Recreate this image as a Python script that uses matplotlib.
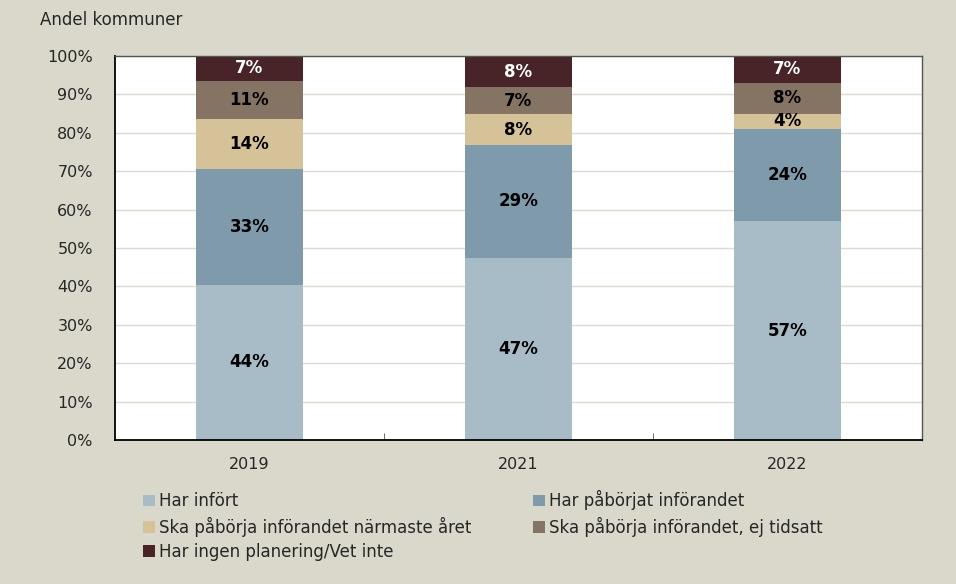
"""
plot.py - Staplat 100%-diagram: andel kommuner per ar.
Output: out.png
"""

import numpy as np
import matplotlib.pyplot as plt
from matplotlib.ticker import FixedLocator, PercentFormatter

plt.rcParams["font.family"] = ["DejaVu Sans"]
plt.rcParams["text.color"] = "#262626"
plt.rcParams["xtick.labelcolor"] = "#262626"
plt.rcParams["ytick.labelcolor"] = "#262626"

years = ["2019", "2021", "2022"]
series_names = [
    "Har infört",
    "Har påbörjat införandet",
    "Ska påbörja införandet närmaste året",
    "Ska påbörja införandet, ej tidsatt",
    "Har ingen planering/Vet inte",
]
har_infort = [44, 47, 57]
har_paborjat = [33, 29, 24]
ska_narmaste = [14, 8, 4]
ska_ej_tidsatt = [11, 7, 8]
ingen_planering = [7, 8, 7]

colors = ["#A7BCC7", "#7E9AAB", "#D5C298", "#857363", "#482327"]
label_colors = ["black", "black", "black", "black", "white"]
BG = "#DAD8CB"


def main():
    data = np.array([har_infort, har_paborjat, ska_narmaste,
                     ska_ej_tidsatt, ingen_planering], dtype=float)
    shares = data / data.sum(axis=0) * 100

    fig = plt.figure(figsize=(9.56, 5.84), dpi=100, facecolor=BG)
    ax = fig.add_axes([0.1203, 0.2466, 0.844, 0.6575])
    ax.set_facecolor("white")

    x = np.arange(len(years))
    bottom = np.zeros(len(years))
    for i, name in enumerate(series_names):
        ax.bar(x, shares[i], 0.4, bottom=bottom, color=colors[i],
               label=name, zorder=2)
        for j in range(len(years)):
            yc = bottom[j] + shares[i][j] / 2
            ax.text(x[j], yc, f"{int(data[i][j])}%", ha="center", va="center",
                    fontsize=12, fontweight="bold", color=label_colors[i],
                    zorder=3)
        bottom += shares[i]

    ax.set_xlim(-0.5, 2.5)
    ax.set_ylim(0, 100)
    ax.set_yticks(np.arange(0, 101, 10))
    ax.yaxis.set_major_formatter(PercentFormatter(decimals=0))
    ax.grid(axis="y", color="#DDDAD0", linewidth=1, zorder=0)

    ax.set_xticks(x)
    ax.set_xticklabels(years)
    ax.tick_params(axis="x", which="major", length=0, pad=12, labelsize=11.5)
    ax.xaxis.set_minor_locator(FixedLocator([0.5, 1.5]))
    ax.tick_params(axis="x", which="minor", length=5, direction="in",
                   color="#555555")
    ax.tick_params(axis="y", length=0, pad=16, labelsize=11.5)

    for side in ["left", "bottom"]:
        ax.spines[side].set_color("black")
        ax.spines[side].set_linewidth(1.3)
    for side in ["top", "right"]:
        ax.spines[side].set_color("#555555")
        ax.spines[side].set_linewidth(1.0)

    fig.text(0.042, 0.965, "Andel kommuner", ha="left", va="center",
             fontsize=12)

    # legenden fylls radvis som i originalet
    handles, labels = ax.get_legend_handles_labels()
    order = [0, 2, 4, 1, 3]
    fig.legend([handles[k] for k in order], [labels[k] for k in order],
               loc="upper left", bbox_to_anchor=(0.143, 0.172),
               ncol=2, frameon=False, fontsize=12, handlelength=0.7,
               handleheight=0.7, handletextpad=0.25, columnspacing=3.7,
               labelspacing=0.38, borderaxespad=0)

    fig.savefig("out.png", dpi=100, facecolor=BG)
    plt.close(fig)


if __name__ == "__main__":
    main()
